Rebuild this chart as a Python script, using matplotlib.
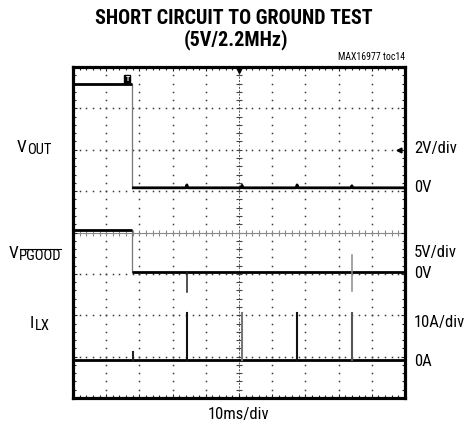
import numpy as np
import matplotlib
matplotlib.use("Agg")
import matplotlib.pyplot as plt
from matplotlib import font_manager as fm

# ---------------- data ----------------
title_line1 = "SHORT CIRCUIT TO GROUND TEST"
title_line2 = "(5V/2.2MHz)"
fig_id = "MAX16977 toc14"
x_scale_label = "10ms/div"

short_time_ms = 17.8

vout_high_v = 5.0
vout_low_v = 0.0
vout_bump_times_ms = [34.3, 50.9, 67.5, 84.0]
vout_bump_v = [0.14, 0.12, 0.14, 0.1]

pgood_high_v = 5.0
pgood_low_v = 0.0
pgood_spike_times_ms = [34.3, 84.0]
pgood_spike_max_v = [0.0, 2.0]
pgood_spike_min_v = [-2.4, -2.3]

ilx_spike_times_ms = [18.1, 34.3, 50.9, 67.5, 84.0]
ilx_spike_a = [2.0, 11.3, 11.3, 11.3, 11.3]

scale_labels = ["2V/div", "5V/div", "10A/div"]
zero_labels = ["0V", "0V", "0A"]
units_per_div = [2.0, 5.0, 10.0]

# ---------------- fonts ----------------
names = {f.name for f in fm.fontManager.ttflist}
def pick(cands, default="DejaVu Sans"):
    for c in cands:
        if c in names:
            return c
    return default

FONT = pick(["Liberation Sans Narrow", "Roboto Condensed", "Open Sans Condensed",
             "DejaVu Sans Condensed", "Roboto", "Liberation Sans"])
plt.rcParams['font.family'] = [FONT, 'DejaVu Sans']

W, H = 467, 432
fig = plt.figure(figsize=(W / 100, H / 100), dpi=100)
L, R, T, B = 73, 405, 67, 398
ax = fig.add_axes([L / W, 1 - B / H, (R - L) / W, (B - T) / H])
ax.set_xlim(0, 100)
ax.set_ylim(0, 8)

# channel zero positions in divisions (layout)
zero_div = [5.08, 3.05, 0.92]

def ydiv(ch, vals):
    return zero_div[ch] + np.asarray(vals, float) / units_per_div[ch]

# ---------------- graticule ----------------
dot_c = "#3a3a3a"
ys = np.arange(0, 8.001, 0.2)
xs = np.arange(0, 100.001, 2.0)
for gx in range(10, 100, 10):
    if gx == 50:
        continue
    ax.plot(np.full_like(ys, gx), ys, ls="none", marker="s", ms=1.1, mew=0, color=dot_c, zorder=1)
for gy in range(1, 8):
    if gy == 4:
        continue
    ax.plot(xs, np.full_like(xs, gy), ls="none", marker="s", ms=1.1, mew=0, color=dot_c, zorder=1)
# center cross
ax.plot([50, 50], [0, 8], color="#555555", lw=0.7, dashes=(2, 1.5), zorder=1)
ax.plot(np.full_like(ys, 50), ys, ls="none", marker="_", ms=4, mew=0.8, color="#444444", zorder=1)
ax.plot([0, 100], [4, 4], color="#8a8a8a", lw=0.8, zorder=1)
ax.plot(xs, np.full_like(xs, 4), ls="none", marker="|", ms=4, mew=0.8, color="#8a8a8a", zorder=1)

# ---------------- traces ----------------
thick = dict(color="black", lw=2.0, solid_capstyle="butt", zorder=3)
edge = dict(color="#777777", lw=0.9, zorder=2)

# VOUT
ax.plot([short_time_ms, short_time_ms], ydiv(0, [vout_high_v, vout_low_v]), **edge)
ax.plot([0, short_time_ms], ydiv(0, [vout_high_v, vout_high_v]), **thick)
vt, vv = [short_time_ms], [vout_low_v]
for t, b in zip(vout_bump_times_ms, vout_bump_v):
    vt += [t - 0.3, t, t + 0.3]
    vv += [vout_low_v, vout_low_v + b, vout_low_v]
vt.append(100); vv.append(vout_low_v)
ax.plot(vt, ydiv(0, vv), **thick)

# PGOOD
ax.plot([short_time_ms, short_time_ms], ydiv(1, [pgood_high_v, pgood_low_v]), **edge)
ax.plot([0, short_time_ms], ydiv(1, [pgood_high_v, pgood_high_v]), **thick)
ax.plot([short_time_ms, 100], ydiv(1, [pgood_low_v, pgood_low_v]), **thick)
for t, hi, lo, c in zip(pgood_spike_times_ms, pgood_spike_max_v, pgood_spike_min_v, ["#222222", "#8a8a8a"]):
    ax.plot([t, t], ydiv(1, [lo, hi]), color=c, lw=1.1, zorder=3)

# ILX
ax.plot([0, 100], ydiv(2, [0, 0]), **thick)
for t, a, c in zip(ilx_spike_times_ms, ilx_spike_a, ["#222222", "#111111", "#777777", "#111111", "#555555"]):
    ax.plot([t, t], ydiv(2, [0, a]), color=c, lw=1.5, zorder=3)

# markers: trigger T, trigger position, channel reference
ax.text(16.4, 7.71, "T", color="white", fontsize=5.5, fontweight="bold", ha="center", va="center",
        bbox=dict(boxstyle="square,pad=0.12", fc="black", ec="black"), zorder=5)
ax.plot([50], [7.93], marker="v", ms=4, color="black", zorder=5, clip_on=False)
ax.plot([98.3], [6.0], marker="<", ms=3.5, color="black", zorder=5)

# ---------------- frame ----------------
for s in ax.spines.values():
    s.set_linewidth(2.3)
ax.set_xticks(np.arange(0, 100.1, 10))
ax.set_xticks(np.arange(0, 100.1, 2), minor=True)
ax.set_yticks(np.arange(0, 8.1, 1))
ax.set_yticks(np.arange(0, 8.01, 0.2), minor=True)
ax.tick_params(which="both", direction="in", top=True, right=True,
               labelbottom=False, labelleft=False, width=0.8, color="#222222")
ax.tick_params(which="major", length=3)
ax.tick_params(which="minor", length=2)

# ---------------- texts ----------------
def ftext(x, y, s, **kw):
    return fig.text(x / W, 1 - y / H, s, **kw)

ftext(234, 18, title_line1, fontsize=14.5, fontweight="bold", ha="center", va="center")
ftext(236, 40, title_line2, fontsize=14.5, fontweight="bold", ha="center", va="center")
ftext(405, 57, fig_id, fontsize=7, ha="right", va="center")
ftext(239, 415, x_scale_label, fontsize=12, ha="center", va="center")

right_pos = [(148, 188), (253, 273), (322, 362)]
for (ys_, yz), sl, zl in zip(right_pos, scale_labels, zero_labels):
    ftext(414, ys_, sl, fontsize=12, ha="left", va="center")
    ftext(414, yz, zl, fontsize=12, ha="left", va="center")

# left channel names: main letter + lowered smaller suffix
def chan_label(x, y, main, sub):
    t = ftext(x, y, main, fontsize=12.5, ha="left", va="center")
    ann = plt.annotate(sub, xy=(1, 0), xycoords=t, xytext=(0.3, -1.8), textcoords="offset points",
                       fontsize=10.5, ha="left", va="bottom", annotation_clip=False)
    return t, ann

chan_label(17, 147, "V", "OUT")
t_pg, a_pg = chan_label(9, 253, "V", "PGOOD")
chan_label(30, 323, "I", "LX")

# overline for PGOOD
fig.canvas.draw()
bb = a_pg.get_window_extent()
inv = fig.transFigure.inverted()
(x0, y0), (x1, y1) = inv.transform([(bb.x0 + 0.5, bb.y1 + 0.5), (bb.x1 - 0.3, bb.y1 + 0.5)])
fig.add_artist(plt.Line2D([x0, x1], [y0, y1], transform=fig.transFigure, color="black", lw=0.8))

fig.savefig("out.png", dpi=100)
